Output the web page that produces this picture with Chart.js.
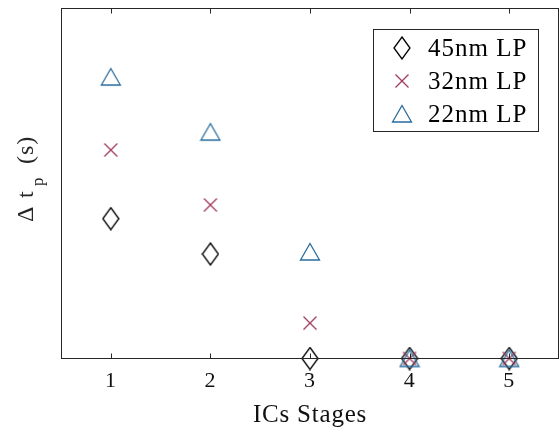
<!DOCTYPE html>
<html>
<head>
<meta charset="utf-8">
<script src="https://cdn.jsdelivr.net/npm/chart.js@4"></script>
<style>
  html, body { margin: 0; padding: 0; background: #fff; }
  #wrap { width: 560px; height: 432px; }
</style>
</head>
<body>
<div id="wrap"><canvas id="chart" width="560" height="432"></canvas></div>
<script>
// data (y normalised, unitless)
const stages = [1, 2, 3, 4, 5];
const xTicks = [1, 2, 3, 4, 5];
const lp45 = [0.399, 0.298, 0, 0, 0];
const lp32 = [0.595, 0.438, 0.101, 0, 0];
const lp22 = [0.803, 0.646, 0.304, 0, 0];
const labels = ["45nm LP", "32nm LP", "22nm LP"];

const SERIF = "'Liberation Serif', 'DejaVu Serif', serif";
const AXIS = "#262626";
const RED = "#a2395c";
const BLUE = "#2a6c9e";

function marker(w, h, draw) {
    const c = document.createElement("canvas");
    c.width = w; c.height = h;
    const ctx = c.getContext("2d");
    ctx.lineWidth = 1.3;
    draw(ctx, w, h);
    return c;
}

const diamond = marker(18, 24, (ctx, w, h) => {
    ctx.strokeStyle = "#000";
    ctx.beginPath();
    ctx.moveTo(w / 2, 1); ctx.lineTo(w - 1, h / 2);
    ctx.lineTo(w / 2, h - 1); ctx.lineTo(1, h / 2);
    ctx.closePath(); ctx.stroke();
});
const cross = marker(16, 16, (ctx, w, h) => {
    ctx.strokeStyle = RED;
    ctx.beginPath();
    ctx.moveTo(1.5, 1.5); ctx.lineTo(w - 1.5, h - 1.5);
    ctx.moveTo(w - 1.5, 1.5); ctx.lineTo(1.5, h - 1.5);
    ctx.stroke();
});
const triangle = marker(22, 20, (ctx, w, h) => {
    ctx.strokeStyle = BLUE;
    ctx.beginPath();
    ctx.moveTo(w / 2, 1.5); ctx.lineTo(w - 1.5, h - 2);
    ctx.lineTo(1.5, h - 2);
    ctx.closePath(); ctx.stroke();
});
const styles = [diamond, cross, triangle];

function pts(ys) {
    return stages.map((x, i) => ({ x: x, y: ys[i] }));
}

// slightly wider glyph spacing, like the original's serif rendering
const spacing = {
    id: "spacing",
    beforeDraw(chart) { chart.ctx.letterSpacing = "0.8px"; }
};

// box, inward ticks, y label, legend
const decor = {
    id: "decor",
    afterDatasetsDraw(chart) {
        const { ctx, chartArea: a, scales } = chart;
        ctx.save();
        ctx.strokeStyle = AXIS;
        ctx.lineWidth = 1;
        const L = Math.round(a.left) + 0.5, R = Math.round(a.right) - 0.5;
        const T = Math.round(a.top) + 0.5, B = Math.round(a.bottom) - 0.5;
        ctx.strokeRect(L, T, R - L, B - T);
        ctx.beginPath();
        xTicks.forEach(v => {
            const px = Math.round(scales.x.getPixelForValue(v)) + 0.5;
            ctx.moveTo(px, B); ctx.lineTo(px, B - 5);
            ctx.moveTo(px, T); ctx.lineTo(px, T + 5);
        });
        ctx.stroke();

        // y label: Δ t_p (s), pieces placed along the rotated baseline
        ctx.translate(33, 222);
        ctx.rotate(-Math.PI / 2);
        ctx.fillStyle = AXIS;
        ctx.textBaseline = "alphabetic";
        ctx.letterSpacing = "0px";
        const big = "24px " + SERIF, small = "17px " + SERIF;
        ctx.font = big;
        ctx.fillText("\u0394", 0, 0);
        ctx.fillText("t", 24, 0);
        ctx.font = small;
        ctx.fillText("p", 36, 10);
        ctx.font = big;
        ctx.letterSpacing = "1px";
        ctx.fillText("(s)", 58, 0);
        ctx.restore();

        // legend
        ctx.save();
        ctx.strokeStyle = AXIS;
        ctx.lineWidth = 1;
        ctx.fillStyle = "#fff";
        ctx.fillRect(373.5, 29.5, 165, 102);
        ctx.strokeRect(373.5, 29.5, 165, 102);
        ctx.font = "25px " + SERIF;
        ctx.letterSpacing = "1px";
        ctx.fillStyle = "#000";
        ctx.textBaseline = "middle";
        chart.data.datasets.forEach((ds, i) => {
            const y = 48 + i * 33;
            const img = ds.pointStyle;
            ctx.drawImage(img, 402 - img.width / 2, y - img.height / 2);
            ctx.fillText(ds.label, 428, y + 1);
        });
        ctx.restore();
    }
};

new Chart(document.getElementById("chart"), {
    type: "scatter",
    data: {
        datasets: [
            { label: labels[0], data: pts(lp45), pointStyle: styles[0], order: 3, clip: false },
            { label: labels[1], data: pts(lp32), pointStyle: styles[1], order: 2, clip: false },
            { label: labels[2], data: pts(lp22), pointStyle: styles[2], order: 1, clip: false }
        ]
    },
    options: {
        responsive: false,
        animation: false,
        layout: { autoPadding: false, padding: { left: 61, top: 8, right: 1, bottom: 0 } },
        plugins: { legend: { display: false }, tooltip: { enabled: false } },
        scales: {
            x: {
                type: "linear",
                min: 0.5,
                max: 5.5,
                afterBuildTicks: s => { s.ticks = xTicks.map(v => ({ value: v })); },
                afterFit: s => {
                    s.height = 73.5;
                    s.paddingLeft = 0;
                    s.paddingRight = 0;
                },
                grid: { display: false, drawTicks: false },
                border: { display: false },
                ticks: { color: "#111", font: { family: SERIF, size: 22 }, padding: 10 },
                title: {
                    display: true,
                    text: "ICs Stages",
                    color: "#111",
                    font: { family: SERIF, size: 25 },
                    padding: { top: 0, bottom: 2 }
                }
            },
            y: {
                display: false,
                min: 0,
                max: 1
            }
        }
    },
    plugins: [spacing, decor]
});
</script>
</body>
</html>
